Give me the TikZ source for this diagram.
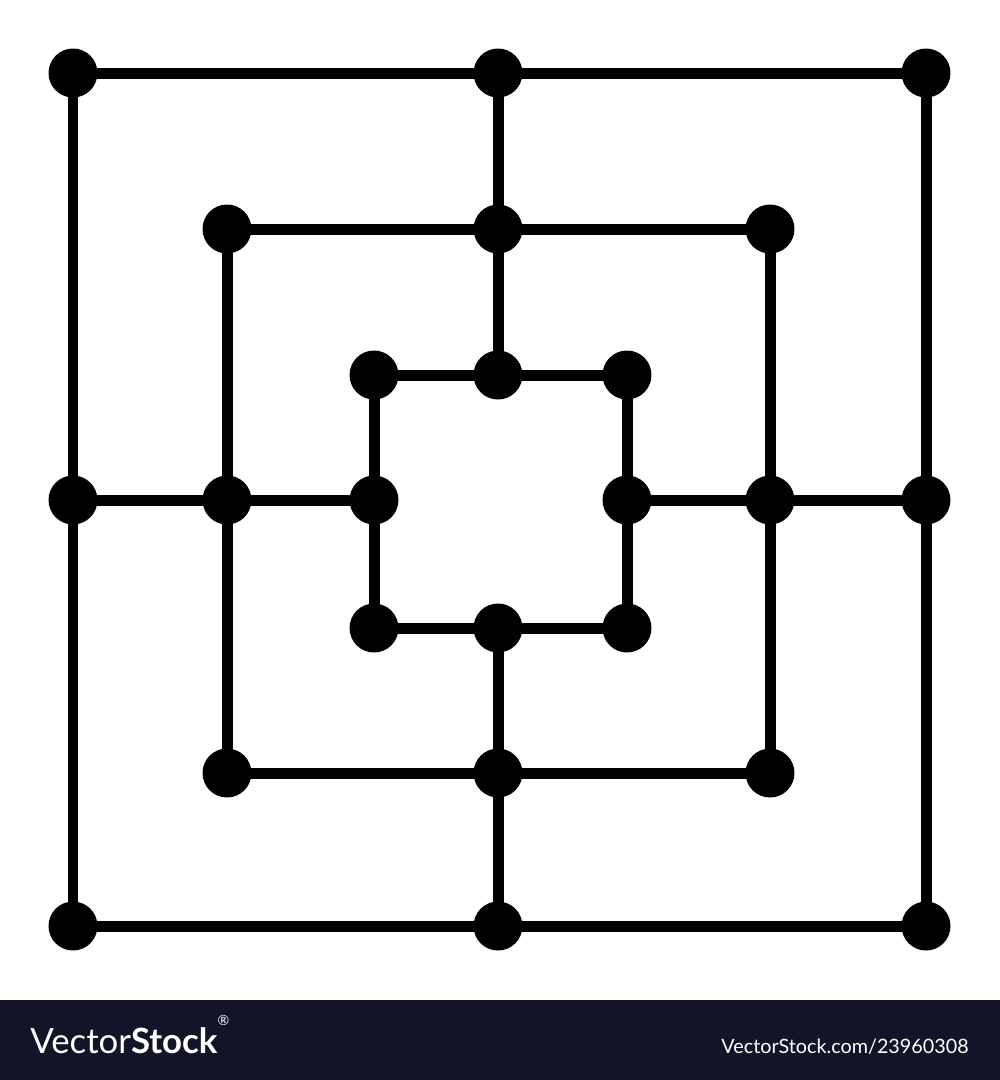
\documentclass[tikz,border=0pt]{standalone}
\usepackage{fontspec}
\usetikzlibrary{backgrounds}
\newfontfamily\markfont{Lato}
\definecolor{barnavy}{RGB}{19,20,40}
\tikzset{
  spot/.style={circle,fill=black,minimum size=0.98cm,inner sep=0pt},
  track/.style={line width=0.22cm,black},
  stamp/.style={text=white,inner sep=0pt,font=\markfont}
}
\begin{document}
\begin{tikzpicture}[x=0.02cm,y=-0.02cm]
  \useasboundingbox (0,0) rectangle (1000,1080);

  % outer square
  \node[spot] (o1) at (73,73) {};
  \node[spot] (o2) at (498,73) {};
  \node[spot] (o3) at (926,73) {};
  \node[spot] (o4) at (926,500) {};
  \node[spot] (o5) at (926,926) {};
  \node[spot] (o6) at (498,926) {};
  \node[spot] (o7) at (73,926) {};
  \node[spot] (o8) at (73,500) {};

  % middle square
  \node[spot] (m1) at (227,229) {};
  \node[spot] (m2) at (498,229) {};
  \node[spot] (m3) at (770,229) {};
  \node[spot] (m4) at (770,500) {};
  \node[spot] (m5) at (770,773) {};
  \node[spot] (m6) at (498,773) {};
  \node[spot] (m7) at (227,773) {};
  \node[spot] (m8) at (227,500) {};

  % inner square
  \node[spot] (i1) at (374,375) {};
  \node[spot] (i2) at (498,375) {};
  \node[spot] (i3) at (627,375) {};
  \node[spot] (i4) at (627,500) {};
  \node[spot] (i5) at (627,628) {};
  \node[spot] (i6) at (498,628) {};
  \node[spot] (i7) at (374,628) {};
  \node[spot] (i8) at (374,500) {};

  \begin{scope}[on background layer]
    \foreach \r in {o,m,i}
      \draw[track] (\r1.center) -- (\r3.center) -- (\r5.center) -- (\r7.center) -- cycle;
    \foreach \k in {2,4,6,8}
      \draw[track] (o\k.center) -- (m\k.center) -- (i\k.center);
  \end{scope}

  % watermark bar
  \fill[barnavy] (0,1000) rectangle (1000,1080);
  \node[stamp,anchor=base west,font=\markfont\fontsize{19.8}{20}\selectfont] (brand) at (30,1053)
    {Vector\textbf{Stock}\raisebox{0.8em}{\fontsize{8}{8}\selectfont ®}};
  \node[stamp,anchor=base east,font=\markfont\fontsize{11.25}{12}\selectfont] (ref) at (969,1053)
    {VectorStock.com/23960308};
\end{tikzpicture}
\end{document}
